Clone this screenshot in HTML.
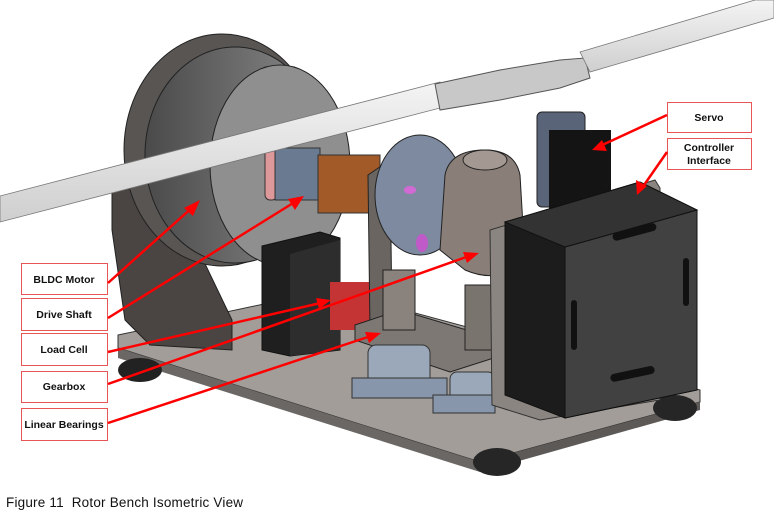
<!DOCTYPE html>
<html><head><meta charset="utf-8"><style>
body{margin:0;background:#fff;width:774px;height:516px;overflow:hidden}
svg{position:absolute;left:0;top:0}
.l{font-family:"Liberation Sans",Arial,sans-serif;font-weight:bold;font-size:10.5px;fill:#111}
</style></head><body>
<svg width="774" height="516" viewBox="0 0 774 516">
<defs>
<linearGradient id="mg" x1="0" x2="1"><stop offset="0" stop-color="#4a4a4a"/><stop offset="1" stop-color="#8a8a8a"/></linearGradient>
<linearGradient id="bl" x1="0" x2="0" y1="0" y2="1"><stop offset="0" stop-color="#f4f4f4"/><stop offset="1" stop-color="#cfcfcf"/></linearGradient>
</defs>
<!-- base plate -->
<polygon points="118,335 330,290 700,390 700,402 480,462 118,348" fill="#a29d98" stroke="#333" stroke-width="1"/>
<polygon points="118,348 480,462 480,472 118,358" fill="#6b6764"/>
<polygon points="480,462 700,402 700,410 480,472" fill="#5c5957"/>
<!-- feet -->
<ellipse cx="140" cy="370" rx="22" ry="12" fill="#222"/>
<ellipse cx="497" cy="462" rx="24" ry="14" fill="#262626"/>
<ellipse cx="675" cy="408" rx="22" ry="13" fill="#262626"/>
<!-- motor bracket -->
<polygon points="112,175 160,170 232,320 232,350 150,345 125,320 112,230" fill="#4a4542" stroke="#222"/>
<!-- motor -->
<ellipse cx="222" cy="150" rx="98" ry="116" fill="#585553" stroke="#222"/>
<ellipse cx="235" cy="155" rx="90" ry="108" fill="url(#mg)" stroke="#222"/>
<ellipse cx="280" cy="165" rx="70" ry="100" fill="#8f8f8f" stroke="#222"/>
<!-- shaft -->
<rect x="265" y="145" width="12" height="55" rx="5" fill="#d99" stroke="#333"/>
<rect x="275" y="148" width="45" height="52" fill="#6a7a90" stroke="#333"/>
<rect x="318" y="155" width="62" height="58" fill="#a25a28" stroke="#333"/>
<!-- left black box -->
<polygon points="262,246 320,232 340,238 340,350 290,356 262,350" fill="#1f1f1f" stroke="#111"/>
<polygon points="290,254 340,240 340,350 290,356" fill="#2d2d2d"/>
<!-- red block -->
<rect x="330" y="282" width="48" height="48" fill="#c53434"/>
<!-- gearbox bracket / disk -->
<polygon points="368,175 390,160 392,320 370,330" fill="#6a6560" stroke="#222"/>
<ellipse cx="420" cy="195" rx="45" ry="60" fill="#7e8aa0" stroke="#222"/>
<ellipse cx="410" cy="190" rx="6" ry="4" fill="#d26ad6"/>
<ellipse cx="422" cy="243" rx="6" ry="9" fill="#c05ac8"/>
<!-- gearbox housing -->
<path d="M445,175 Q450,150 485,150 Q515,150 520,175 L525,260 Q500,285 465,270 L440,250 Z" fill="#8a7f78" stroke="#222"/>
<ellipse cx="485" cy="160" rx="22" ry="10" fill="#a39892" stroke="#222"/>
<!-- carriage plate -->
<polygon points="355,325 400,310 500,340 500,356 450,372 355,340" fill="#7d7874" stroke="#222"/>
<rect x="383" y="270" width="32" height="60" fill="#8a827c" stroke="#222"/>
<rect x="465" y="285" width="28" height="65" fill="#7a746f" stroke="#222"/>
<!-- linear bearings -->
<rect x="368" y="345" width="62" height="48" rx="8" fill="#9aa8ba" stroke="#333"/>
<rect x="352" y="378" width="95" height="20" fill="#8796aa" stroke="#333"/>
<rect x="450" y="372" width="45" height="38" rx="7" fill="#9aa8ba" stroke="#333"/>
<rect x="433" y="395" width="62" height="18" fill="#8796aa" stroke="#333"/>
<!-- servo -->
<rect x="537" y="112" width="48" height="95" rx="5" fill="#5a6478" stroke="#222"/>
<rect x="549" y="130" width="62" height="82" fill="#141414"/>
<!-- controller backing plate -->
<polygon points="490,230 655,180 660,188 660,400 540,420 492,405" fill="#8a8580" stroke="#333"/>
<!-- controller box -->
<polygon points="505,222 640,182 697,210 697,390 565,418 505,395" fill="#1c1c1c" stroke="#111"/>
<polygon points="565,247 697,210 697,390 565,418" fill="#414141" stroke="#111"/>
<polygon points="505,222 640,182 697,210 565,247" fill="#333" stroke="#111"/>
<rect x="571" y="300" width="6" height="50" rx="3" fill="#111"/>
<rect x="683" y="258" width="6" height="48" rx="3" fill="#111"/>
<rect x="610" y="370" width="45" height="8" rx="4" fill="#111" transform="rotate(-12 632 374)"/>
<rect x="612" y="228" width="45" height="8" rx="4" fill="#111" transform="rotate(-15 634 232)"/>
<!-- blade -->
<polygon points="0,196 440,82 440,108 0,222" fill="url(#bl)" stroke="#777" stroke-width="0.8"/>
<polygon points="435,84 500,70 560,60 585,58 590,78 560,88 500,100 440,110" fill="#c8c8c8" stroke="#555"/>
<polygon points="580,52 755,0 774,0 774,18 590,72" fill="url(#bl)" stroke="#777" stroke-width="0.8"/>
<!-- label boxes -->
<g fill="#fff" stroke="#e85555" stroke-width="1">
<rect x="21.5" y="263.5" width="86" height="31"/>
<rect x="21.5" y="298.5" width="86" height="32"/>
<rect x="21.5" y="333.5" width="86" height="32"/>
<rect x="21.5" y="371.5" width="86" height="31"/>
<rect x="21.5" y="408.5" width="86" height="32"/>
<rect x="667.5" y="102.5" width="84" height="30"/>
<rect x="667.5" y="138.5" width="84" height="31"/>
</g>
<text class="l" x="64" y="283" text-anchor="middle">BLDC Motor</text>
<text class="l" x="64" y="318" text-anchor="middle">Drive Shaft</text>
<text class="l" x="64" y="353" text-anchor="middle">Load Cell</text>
<text class="l" x="64" y="390" text-anchor="middle">Gearbox</text>
<text class="l" x="64" y="428" text-anchor="middle">Linear Bearings</text>
<text class="l" x="709" y="121" text-anchor="middle">Servo</text>
<text class="l" x="709" y="151" text-anchor="middle">Controller</text>
<text class="l" x="709" y="164" text-anchor="middle">Interface</text>
<!-- arrows -->
<g stroke="#ff0000" stroke-width="2.5" fill="none">
<line x1="108" y1="283" x2="195" y2="205"/>
<line x1="108" y1="318" x2="298" y2="200"/>
<line x1="108" y1="352" x2="325" y2="302"/>
<line x1="108" y1="384" x2="472" y2="255"/>
<line x1="108" y1="423" x2="374" y2="335"/>
<line x1="667" y1="115" x2="598" y2="147"/>
<line x1="667" y1="152" x2="642" y2="188"/>
</g>
<g fill="#ff0000">
<polygon points="200,200 184,208 193,216"/>
<polygon points="304,196 288,199 295,210"/>
<polygon points="331,300 316,298 319,309"/>
<polygon points="479,253 463,252 467,263"/>
<polygon points="381,333 365,332 369,343"/>
<polygon points="592,150 602,140 607,151"/>
<polygon points="637,195 636,180 647,186"/>
</g>
<text x="6" y="507" font-family="Liberation Sans,Arial,sans-serif" font-size="13.5" letter-spacing="0.2" fill="#111">Figure 11&#160;&#160;Rotor Bench Isometric View</text>
</svg>
</body></html>
